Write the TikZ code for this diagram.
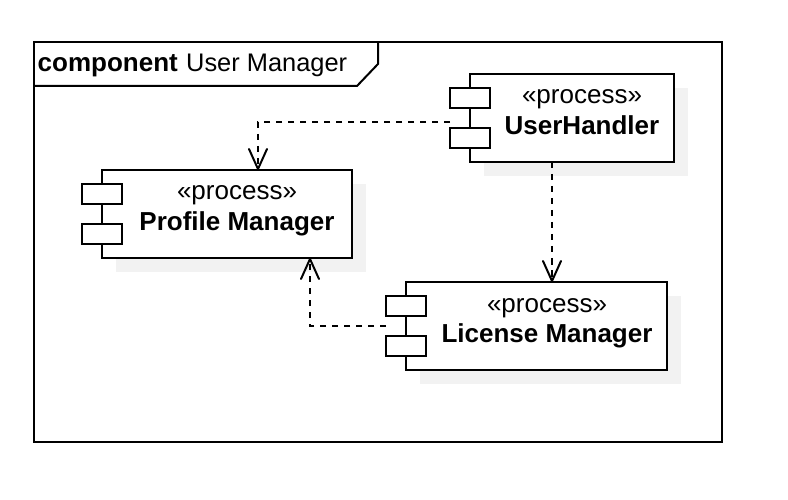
\documentclass[tikz,border=0pt]{standalone}
\usepackage{fontspec}
\setmainfont{Liberation Sans}
\usetikzlibrary{arrows.meta}
\definecolor{shadowgrey}{HTML}{F2F2F2}
\tikzset{
  x=1pt,y=-1pt,
  line width=2pt,
  comp/.style={draw=black,fill=white,rectangle,inner sep=0pt,outer sep=0pt,anchor=north west,line width=2pt},
  port/.style={comp,minimum width=40pt,minimum height=20pt},
  shadowbox/.style={fill=shadowgrey,draw=none,rectangle,inner sep=0pt,outer sep=0pt,anchor=north west},
  stereo/.style={anchor=base,inner sep=0pt,font=\fontsize{26}{30}\selectfont},
  title/.style={anchor=base,inner sep=0pt,font=\fontsize{26}{30}\selectfont\bfseries},
  framelabel/.style={anchor=base west,inner sep=0pt,font=\fontsize{25.4}{30}\selectfont},
  dep/.style={draw=black,line width=2pt,dash pattern=on 6.5pt off 5.5pt,-{Straight Barb[length=20pt,width=18pt,line width=2pt,round]}},
}
\newcommand{\component}[7]{%
  \node[shadowbox,minimum width=#4pt,minimum height=88pt] (#1s) at (#2+14,#3+14) {};
  \node[comp,minimum width=#4pt,minimum height=88pt] (#1) at (#2,#3) {};
  \node[port] (#1a) at (#2-20,#3+14) {};
  \node[port] (#1b) at (#2-20,#3+54) {};
  \node[stereo] (#1t) at (#5,#3+30) {#6};
  \node[title] (#1n) at (#5,#3+60.5) {#7};
}
\begin{document}
\begin{tikzpicture}
\useasboundingbox (0,0) rectangle (788,500);
\fill[white] (0,0) rectangle (788,500);
\draw[line width=2pt] (34,42) rectangle (722,442);
\draw[line width=2pt] (34,86) -- (357,86) -- (378,64) -- (378,42);
\node[framelabel,font=\fontsize{26}{30}\selectfont\bfseries] (ftype) at (37.5,72) {component};
\node[framelabel] (fname) at (186,72) {User Manager};

\component{pm}{102}{170}{250}{237}{«process»}{Profile Manager}
\component{uh}{470}{74}{204}{582}{«process»}{UserHandler}
\component{lm}{406}{282}{261}{547}{«process»}{License Manager}

\coordinate (uhout) at (uha.south west |- 0,122);
\coordinate (lmout) at (lma.south west |- 0,326);
\coordinate (c1) at (258,122);
\coordinate (c2) at (310,326);
\coordinate (pmtop) at (258,0 |- pm.north);
\coordinate (pmbot) at (310,0 |- pm.south);
\coordinate (uhbot) at (552,0 |- uh.south);
\coordinate (lmtop) at (552,0 |- lm.north);

\draw[dep] (uhout) -- (c1) -- (pmtop);
\draw[dep] (uhbot) -- (lmtop);
\draw[dep] (lmout) -- (c2) -- (pmbot);
\end{tikzpicture}
\end{document}
